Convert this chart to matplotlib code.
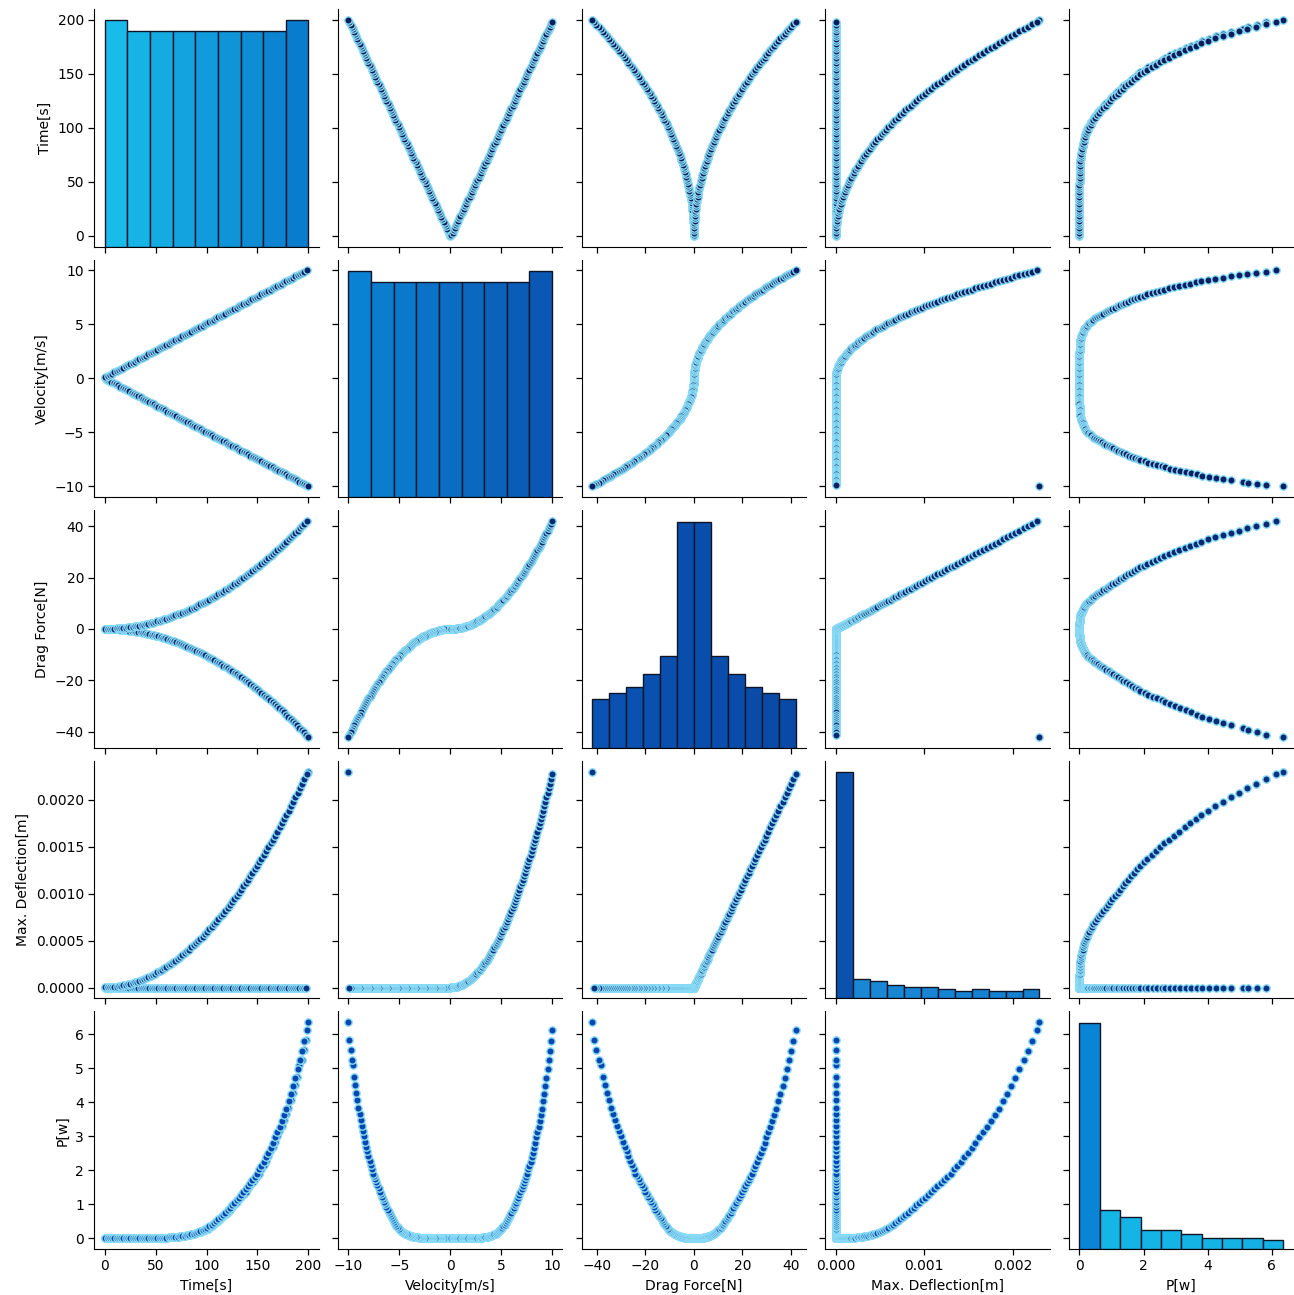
import numpy as np
import matplotlib
matplotlib.use("Agg")
import matplotlib.pyplot as plt
from matplotlib.colors import to_rgb
from matplotlib.ticker import MultipleLocator, FormatStrFormatter

# run with negative velocity (92 rows)
time_neg = [0.0, 2.2, 4.4, 6.6, 8.8, 11.0, 13.2, 15.4, 17.6, 19.8,
            22.0, 24.2, 26.4, 28.6, 30.8, 33.0, 35.2, 37.4, 39.6, 41.8,
            44.0, 46.2, 48.4, 50.5, 52.7, 54.9, 57.1, 59.3, 61.5, 63.7,
            65.9, 68.1, 70.3, 72.5, 74.7, 76.9, 79.1, 81.3, 83.5, 85.7,
            87.9, 90.1, 92.3, 94.5, 96.7, 98.9, 101.1, 103.3, 105.5, 107.7,
            109.9, 112.1, 114.3, 116.5, 118.7, 120.9, 123.1, 125.3, 127.5, 129.7,
            131.9, 134.1, 136.3, 138.5, 140.7, 142.9, 145.1, 147.3, 149.5, 151.6,
            153.8, 156.0, 158.2, 160.4, 162.6, 164.8, 167.0, 169.2, 171.4, 173.6,
            175.8, 178.0, 180.2, 182.4, 184.6, 186.8, 189.0, 191.2, 193.4, 195.6,
            197.8, 200.0]
vel_neg = [0.0, -0.110, -0.220, -0.330, -0.440, -0.549, -0.659, -0.769, -0.879, -0.989,
           -1.099, -1.209, -1.319, -1.429, -1.538, -1.648, -1.758, -1.868, -1.978, -2.088,
           -2.198, -2.308, -2.418, -2.527, -2.637, -2.747, -2.857, -2.967, -3.077, -3.187,
           -3.297, -3.407, -3.516, -3.626, -3.736, -3.846, -3.956, -4.066, -4.176, -4.286,
           -4.396, -4.505, -4.615, -4.725, -4.835, -4.945, -5.055, -5.165, -5.275, -5.385,
           -5.495, -5.604, -5.714, -5.824, -5.934, -6.044, -6.154, -6.264, -6.374, -6.484,
           -6.593, -6.703, -6.813, -6.923, -7.033, -7.143, -7.253, -7.363, -7.473, -7.582,
           -7.692, -7.802, -7.912, -8.022, -8.132, -8.242, -8.352, -8.462, -8.571, -8.681,
           -8.791, -8.901, -9.011, -9.121, -9.231, -9.341, -9.451, -9.560, -9.670, -9.780,
           -9.890, -10.0]
drag_neg = [0.0, -0.01, -0.02, -0.05, -0.08, -0.13, -0.18, -0.25, -0.32, -0.41,
            -0.51, -0.61, -0.73, -0.86, -0.99, -1.14, -1.30, -1.47, -1.64, -1.83,
            -2.03, -2.24, -2.45, -2.68, -2.92, -3.17, -3.43, -3.70, -3.98, -4.27,
            -4.56, -4.87, -5.19, -5.52, -5.86, -6.21, -6.57, -6.94, -7.32, -7.71,
            -8.11, -8.53, -8.95, -9.38, -9.82, -10.27, -10.73, -11.20, -11.69, -12.18,
            -12.68, -13.19, -13.71, -14.25, -14.79, -15.34, -15.90, -16.48, -17.06, -17.65,
            -18.26, -18.87, -19.50, -20.13, -20.77, -21.43, -22.09, -22.77, -23.45, -24.15,
            -24.85, -25.57, -26.29, -27.03, -27.77, -28.53, -29.30, -30.07, -30.86, -31.65,
            -32.46, -33.28, -34.10, -34.94, -35.79, -36.64, -37.51, -38.39, -39.28, -40.17,
            -41.08, -42.0]
# deflection in micrometres
defl_neg_um = [0.0] * 91 + [2300.0]
power_neg = [0.0, 0.0, 0.0, 0.0, 0.0, 0.0, 0.0, 0.0, 0.0, 0.0,
             0.0, 0.0, 0.0, 0.0, 0.0, 0.0, 0.0, 0.0, 0.0, 0.0,
             0.0, 0.0, 0.0, 0.01, 0.01, 0.01, 0.01, 0.01, 0.01, 0.02,
             0.02, 0.03, 0.03, 0.04, 0.05, 0.06, 0.07, 0.08, 0.10, 0.11,
             0.13, 0.14, 0.17, 0.19, 0.22, 0.25, 0.28, 0.33, 0.37, 0.41,
             0.47, 0.53, 0.58, 0.64, 0.71, 0.78, 0.84, 0.91, 0.99, 1.06,
             1.14, 1.21, 1.29, 1.37, 1.46, 1.55, 1.64, 1.73, 1.83, 1.89,
             2.04, 2.15, 2.28, 2.41, 2.56, 2.68, 2.83, 2.99, 3.14, 3.31,
             3.48, 3.65, 3.83, 4.05, 4.26, 4.49, 4.74, 5.09, 5.25, 5.52,
             5.83, 6.35]

# run with positive velocity (90 rows)
time_pos = [0.70, 2.92, 5.14, 7.36, 9.58, 11.80, 14.02, 16.24, 18.46, 20.68,
            22.90, 25.12, 27.34, 29.56, 31.78, 34.00, 36.22, 38.44, 40.66, 42.88,
            45.10, 47.32, 49.54, 51.76, 53.98, 56.20, 58.42, 60.64, 62.86, 65.08,
            67.30, 69.52, 71.74, 73.96, 76.18, 78.40, 80.62, 82.84, 85.06, 87.28,
            89.50, 91.72, 93.94, 96.16, 98.38, 100.60, 102.82, 105.04, 107.26, 109.48,
            111.70, 113.92, 116.14, 118.36, 120.58, 122.80, 125.02, 127.24, 129.46, 131.68,
            133.90, 136.12, 138.34, 140.56, 142.78, 145.00, 147.22, 149.44, 151.66, 153.88,
            156.10, 158.32, 160.54, 162.76, 164.98, 167.20, 169.42, 171.64, 173.86, 176.08,
            178.30, 180.52, 182.74, 184.96, 187.18, 189.40, 191.62, 193.84, 196.06, 198.28]
vel_pos = [0.115, 0.226, 0.337, 0.448, 0.559, 0.670, 0.781, 0.892, 1.003, 1.114,
           1.225, 1.336, 1.447, 1.558, 1.669, 1.780, 1.891, 2.002, 2.113, 2.224,
           2.335, 2.446, 2.557, 2.668, 2.779, 2.890, 3.001, 3.112, 3.223, 3.334,
           3.445, 3.556, 3.667, 3.778, 3.889, 4.000, 4.111, 4.222, 4.333, 4.444,
           4.555, 4.666, 4.777, 4.888, 4.999, 5.110, 5.221, 5.332, 5.443, 5.554,
           5.665, 5.776, 5.887, 5.998, 6.109, 6.220, 6.331, 6.442, 6.553, 6.664,
           6.775, 6.886, 6.997, 7.108, 7.219, 7.330, 7.441, 7.552, 7.663, 7.774,
           7.885, 7.996, 8.107, 8.218, 8.329, 8.440, 8.551, 8.662, 8.773, 8.884,
           8.995, 9.106, 9.217, 9.328, 9.439, 9.550, 9.661, 9.772, 9.883, 9.994]
drag_pos = [0.01, 0.02, 0.05, 0.08, 0.13, 0.19, 0.26, 0.33, 0.42, 0.52,
            0.63, 0.75, 0.88, 1.02, 1.17, 1.33, 1.50, 1.68, 1.88, 2.08,
            2.29, 2.51, 2.75, 2.99, 3.24, 3.51, 3.78, 4.07, 4.36, 4.67,
            4.98, 5.31, 5.65, 6.00, 6.35, 6.72, 7.10, 7.49, 7.89, 8.29,
            8.71, 9.14, 9.58, 10.03, 10.50, 10.97, 11.45, 11.94, 12.44, 12.96,
            13.48, 14.01, 14.56, 15.11, 15.67, 16.25, 16.83, 17.43, 18.04, 18.65,
            19.28, 19.92, 20.56, 21.22, 21.89, 22.57, 23.25, 23.95, 24.66, 25.38,
            26.11, 26.85, 27.60, 28.36, 29.14, 29.92, 30.71, 31.51, 32.33, 33.15,
            33.98, 34.83, 35.68, 36.54, 37.42, 38.30, 39.20, 40.11, 41.02, 42.0]
defl_pos_um = [0.3, 1.1, 2.6, 4.6, 7.1, 10.2, 13.9, 18.1, 22.9, 28.2,
               34.1, 40.6, 47.6, 55.2, 63.3, 72.0, 81.3, 91.1, 101.4, 112.4,
               123.9, 136.0, 148.6, 161.8, 175.5, 189.8, 204.7, 220.0, 236.0, 252.6,
               269.7, 287.3, 305.6, 324.3, 343.6, 363.6, 384.0, 405.0, 426.6, 448.8,
               471.4, 494.7, 518.5, 542.9, 567.8, 593.3, 619.4, 646.0, 673.2, 700.9,
               729.2, 758.0, 787.5, 817.5, 848.0, 879.1, 910.7, 943.0, 975.7, 1009.1,
               1043.0, 1077.4, 1112.4, 1148.0, 1184.1, 1220.8, 1258.1, 1295.9, 1334.3, 1373.2,
               1412.7, 1452.7, 1493.4, 1534.5, 1576.3, 1618.6, 1661.4, 1704.9, 1748.8, 1793.4,
               1838.4, 1884.1, 1930.3, 1977.1, 2024.4, 2072.3, 2120.8, 2169.8, 2219.3, 2269.5]
power_pos = [0.0, 0.0, 0.0, 0.0, 0.0, 0.0, 0.0, 0.0, 0.0, 0.0,
             0.0, 0.0, 0.0, 0.0, 0.0, 0.0, 0.0, 0.0, 0.0, 0.0,
             0.0, 0.0, 0.01, 0.01, 0.01, 0.01, 0.01, 0.01, 0.02, 0.02,
             0.03, 0.03, 0.04, 0.05, 0.06, 0.07, 0.09, 0.10, 0.12, 0.13,
             0.15, 0.18, 0.21, 0.23, 0.26, 0.30, 0.35, 0.39, 0.44, 0.50,
             0.56, 0.62, 0.68, 0.75, 0.82, 0.88, 0.96, 1.03, 1.11, 1.19,
             1.26, 1.35, 1.43, 1.52, 1.61, 1.70, 1.80, 1.88, 2.02, 2.12,
             2.25, 2.38, 2.51, 2.65, 2.80, 2.96, 3.11, 3.28, 3.45, 3.63,
             3.80, 4.02, 4.24, 4.46, 4.72, 4.97, 5.23, 5.50, 5.81, 6.12]

labels = ["Time[s]", "Velocity[m/s]", "Drag Force[N]", "Max. Deflection[m]", "P[w]"]

cols = [
    np.array(time_neg + time_pos),
    np.array(vel_neg + vel_pos),
    np.array(drag_neg + drag_pos),
    np.array(defl_neg_um + defl_pos_um) * 1e-6,
    np.array(power_neg + power_pos),
]

n_bins = [9, 9, 12, 12, 10]
x_steps = [50, 5, 20, 0.001, 2]
y_steps = [50, 5, 20, 0.0005, 1]

# marker fill per row, light rim (dense runs look lighter)
face = ['#0b1d5a', '#0b2064', '#0b2872', '#0b3282', '#0a46b0']
rim = '#8adcf6'
# histogram bar colours (left -> right)
hist_cols = [('#18bbea', '#0a7ccd'), ('#0a82d3', '#0a58b3'), ('#0a52b3', '#0a4aa6'),
             ('#1a88d6', '#1580d0'), ('#14b6e6', '#14b2e4')]
first_bar = [None, None, None, '#0a52ad', '#0a84d4']

plt.rcParams['font.family'] = 'DejaVu Sans'
plt.rcParams['font.size'] = 10

fig, axes = plt.subplots(5, 5, figsize=(12.94, 12.95), dpi=100, sharex='col', sharey='row')
fig.subplots_adjust(left=0.073, right=0.9995, bottom=0.0356, top=0.993, wspace=0.087, hspace=0.055)

for r in range(5):
    for c in range(5):
        ax = axes[r, c]
        ax.spines['top'].set_visible(False)
        ax.spines['right'].set_visible(False)
        ax.tick_params(labelsize=10, length=4, width=0.9)
        if r != c:
            ax.scatter(cols[c], cols[r], s=28, c=face[r], edgecolors=rim, linewidths=1.0, zorder=2)

# diagonal histograms on hidden twin axes
for k in range(5):
    ax = axes[k, k]
    hx = ax.twinx()
    hx.set_axis_off()
    counts, edges, bars = hx.hist(cols[k], bins=n_bins[k], edgecolor='#0d1526', linewidth=1.0)
    c0 = np.array(to_rgb(hist_cols[k][0]))
    c1 = np.array(to_rgb(hist_cols[k][1]))
    for b, f in zip(bars, np.linspace(0, 1, len(bars))):
        b.set_facecolor(c0 + (c1 - c0) * f)
    if first_bar[k]:
        bars[0].set_facecolor(first_bar[k])

for k in range(5):
    axes[0, k].xaxis.set_major_locator(MultipleLocator(x_steps[k]))
    axes[k, 0].yaxis.set_major_locator(MultipleLocator(y_steps[k]))
    axes[4, k].set_xlabel(labels[k], fontsize=10)
    axes[k, 0].set_ylabel(labels[k], fontsize=10)

axes[0, 3].xaxis.set_major_formatter(FormatStrFormatter('%.3f'))
axes[3, 0].yaxis.set_major_formatter(FormatStrFormatter('%.4f'))

fig.savefig("out.png", dpi=100)
